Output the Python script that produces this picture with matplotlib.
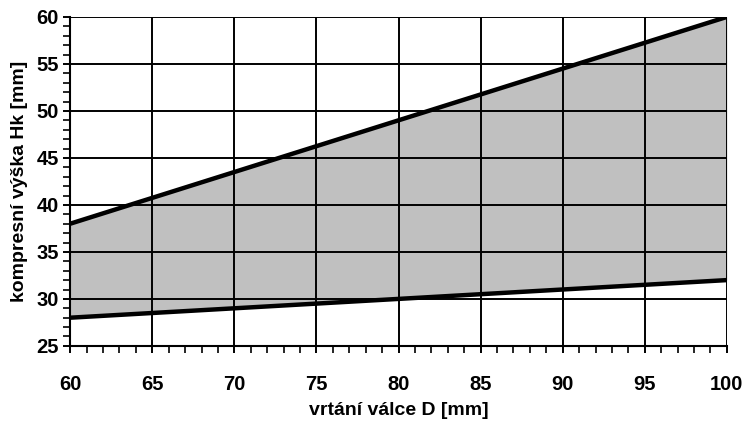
import numpy as np
import matplotlib.pyplot as plt
from matplotlib.ticker import MultipleLocator

# bore diameter and compression height limits
bore = [60, 100]
hk_max = [38, 60]
hk_min = [28, 32]

xticks = [60, 65, 70, 75, 80, 85, 90, 95, 100]
yticks = [25, 30, 35, 40, 45, 50, 55, 60]

plt.rcParams['font.family'] = ['Liberation Sans', 'DejaVu Sans']
plt.rcParams['font.weight'] = 'bold'

fig = plt.figure(figsize=(7.47, 4.34), dpi=100)
ax = fig.add_axes([0.094, 0.203, 0.879, 0.758])

ax.fill_between(bore, hk_min, hk_max, color='#c0c0c0', lw=0, zorder=1)
ax.plot(bore, hk_max, color='black', lw=3.2, zorder=3, solid_capstyle='butt')
ax.plot(bore, hk_min, color='black', lw=3.2, zorder=3, solid_capstyle='butt')

ax.set_xlim(60, 100)
ax.set_ylim(25, 60)
ax.set_xticks(xticks)
ax.set_yticks(yticks)
ax.xaxis.set_minor_locator(MultipleLocator(1))
ax.yaxis.set_minor_locator(MultipleLocator(1))
ax.grid(True, which='major', color='black', lw=1.4, zorder=2)
ax.set_axisbelow(False)

ax.tick_params(which='major', direction='out', length=5, width=1.4, labelsize=14.5)
ax.tick_params(axis='y', which='major', pad=3)
ax.tick_params(axis='x', which='major', pad=16)
ax.tick_params(which='minor', direction='out', length=5, width=1.2)

for s in ['left', 'bottom']:
    ax.spines[s].set_linewidth(1.5)
for s in ['top', 'right']:
    ax.spines[s].set_visible(False)

ax.set_xlabel('vrtání válce D [mm]', fontsize=14, fontweight='bold', labelpad=6)
ax.set_ylabel('kompresní výška Hk [mm]', fontsize=14, fontweight='bold', labelpad=6)

fig.savefig('out.png', dpi=100)
